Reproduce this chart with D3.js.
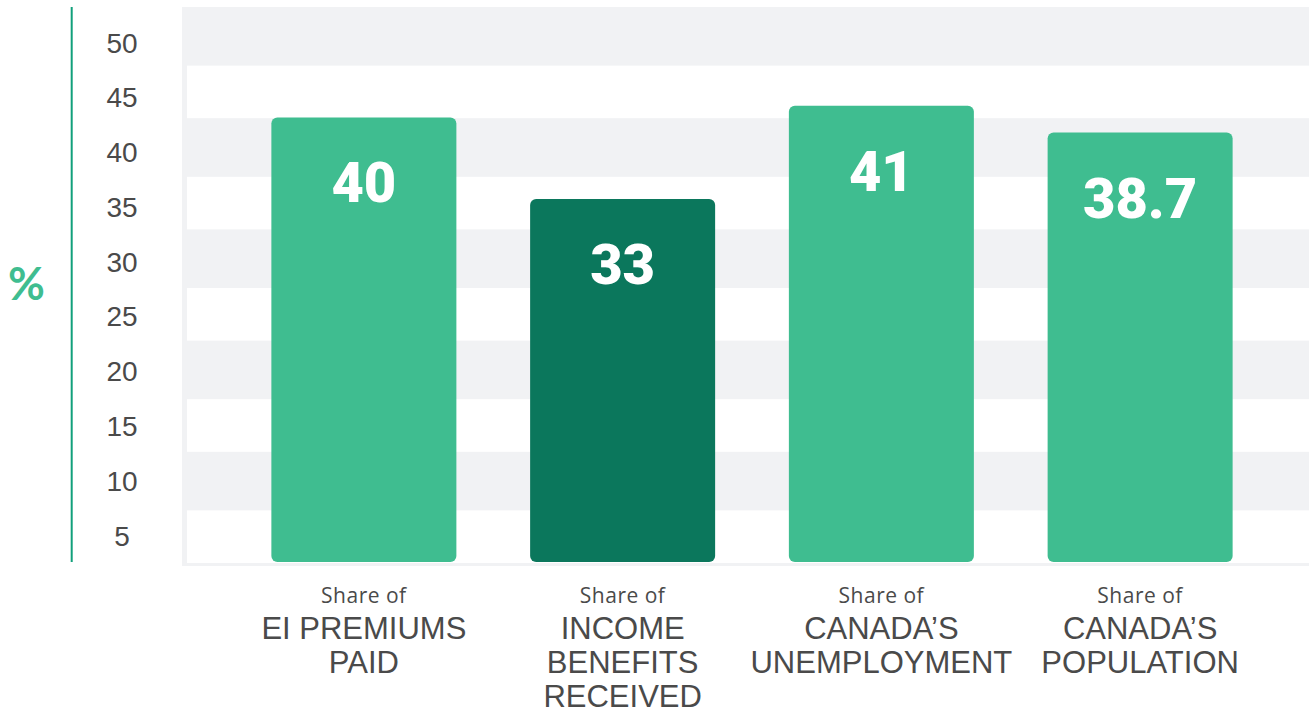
<!DOCTYPE html>
<html>
<head>
<meta charset="utf-8">
<script src="https://cdn.jsdelivr.net/npm/d3@7"></script>
<style>
  body { margin: 0; background: #fff; }
  svg { display: block; }
</style>
</head>
<body>
<div id="chart"></div>
<script>
// Data
var categories = ["EI PREMIUMS PAID", "INCOME BENEFITS RECEIVED", "CANADA'S UNEMPLOYMENT", "CANADA'S POPULATION"];
var labelLines = [["EI PREMIUMS", "PAID"], ["INCOME", "BENEFITS", "RECEIVED"], ["CANADA\u2019S", "UNEMPLOYMENT"], ["CANADA\u2019S", "POPULATION"]];
var values = [40, 33, 41, 38.7];
var valueLabels = ["40", "33", "41", "38.7"];
var highlighted = [false, true, false, false];
var tickValues = [5, 10, 15, 20, 25, 30, 35, 40, 45, 50];

var W = 1309, H = 713;
var plotLeft = 182, plotTop = 7, plotBottom = 562;

var svg = d3.select("#chart").append("svg")
  .attr("width", W)
  .attr("height", H);

// scales
var x = d3.scaleBand()
  .domain(categories)
  .range([234.5, 1269.5])
  .paddingInner(0.285)
  .paddingOuter(0.1425);

var y = d3.scaleLinear()        // bars
  .domain([0, 50])
  .range([583, 1]);

var yTick = d3.scaleLinear()    // tick labels
  .domain([5, 50])
  .range([535.5, 42.5]);

var yGrid = d3.scaleLinear()    // striped background
  .domain([0, 50])
  .range([563, 7]);

// background stripes
svg.append("rect")
  .attr("x", plotLeft)
  .attr("y", plotTop)
  .attr("width", W - plotLeft)
  .attr("height", 566 - plotTop)
  .attr("fill", "#f1f2f4");

var whiteBands = [0, 10, 20, 30, 40];
svg.selectAll(".band")
  .data(whiteBands)
  .enter().append("rect")
    .attr("class", "band")
    .attr("x", plotLeft + 5)
    .attr("y", function(d) { return yGrid(d + 5) + 3; })
    .attr("width", W - plotLeft - 5)
    .attr("height", function(d) { return yGrid(d) - yGrid(d + 5) - 3; })
    .attr("fill", "#ffffff");

// axis line
svg.append("line")
  .attr("x1", 71.7).attr("x2", 71.7)
  .attr("y1", plotTop).attr("y2", plotBottom)
  .attr("stroke", "#12a07b")
  .attr("stroke-width", 2);

// tick labels
svg.selectAll(".tick")
  .data(tickValues)
  .enter().append("text")
    .attr("class", "tick")
    .attr("x", 122)
    .attr("y", function(d) { return yTick(d); })
    .attr("dy", "0.36em")
    .attr("text-anchor", "middle")
    .style("font-family", "'Liberation Sans', Arial, sans-serif")
    .style("font-size", "28px")
    .style("fill", "#4a4a4a")
    .text(function(d) { return d; });

// % label
svg.append("text")
  .attr("x", 26.5)
  .attr("y", 284)
  .attr("dy", "0.36em")
  .attr("text-anchor", "middle")
  .style("font-family", "Lato, sans-serif")
  .style("font-weight", 700)
  .style("font-size", "45px")
  .style("fill", "#3fbd90")
  .text("%");

// bars
svg.selectAll(".bar")
  .data(categories)
  .enter().append("rect")
    .attr("class", "bar")
    .attr("x", function(d) { return x(d); })
    .attr("y", function(d, i) { return y(values[i]); })
    .attr("width", x.bandwidth())
    .attr("height", function(d, i) { return plotBottom - y(values[i]); })
    .attr("rx", 6)
    .attr("fill", function(d, i) { return highlighted[i] ? "#0b775c" : "#3fbd90"; });

// value labels
svg.selectAll(".val")
  .data(categories)
  .enter().append("text")
    .attr("class", "val")
    .attr("x", function(d) { return x(d) + x.bandwidth() / 2; })
    .attr("y", function(d, i) { return y(values[i]) + 85; })
    .attr("text-anchor", "middle")
    .style("font-family", "Roboto, sans-serif")
    .style("font-weight", 900)
    .style("font-size", "56px")
    .style("fill", "#ffffff")
    .text(function(d, i) { return valueLabels[i]; });

// category labels
var cat = svg.selectAll(".cat")
  .data(categories)
  .enter().append("g")
    .attr("class", "cat")
    .attr("transform", function(d) { return "translate(" + (x(d) + x.bandwidth() / 2) + ",0)"; });

cat.append("text")
  .attr("y", 603)
  .attr("text-anchor", "middle")
  .style("font-family", "'Open Sans', sans-serif")
  .style("font-size", "21px")
  .style("letter-spacing", "0.5px")
  .style("fill", "#4a4a4a")
  .text("Share of");

cat.each(function(d, i) {
  d3.select(this).selectAll(".line")
    .data(labelLines[i])
    .enter().append("text")
      .attr("class", "line")
      .attr("y", function(t, j) { return 639 + j * 34; })
      .attr("text-anchor", "middle")
      .style("font-family", "'Liberation Sans', Arial, sans-serif")
      .style("font-size", "31px")
      .style("fill", "#4a4a4a")
      .text(function(t) { return t; });
});
</script>
</body>
</html>
